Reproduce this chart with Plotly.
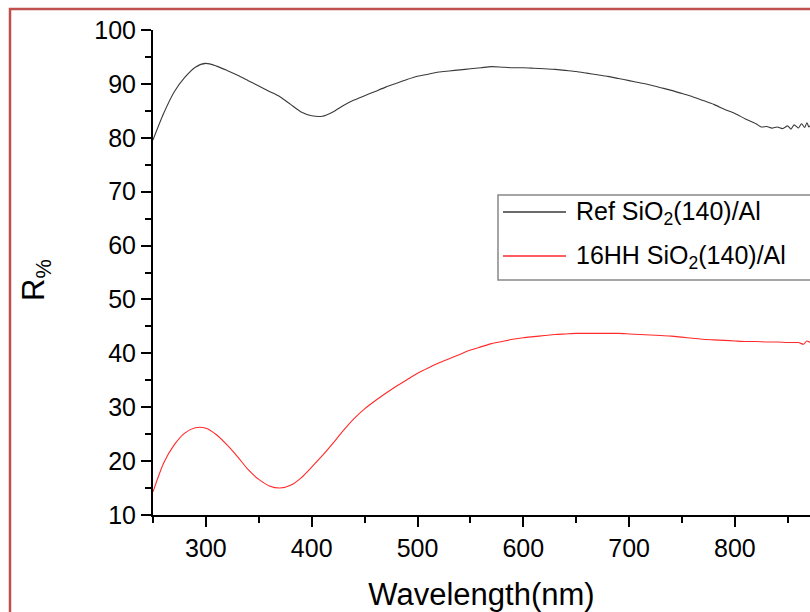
import plotly.graph_objects as go

# ---- data ----
wl_ref = [250, 260, 270, 280, 290, 300, 310, 320, 330, 340, 350, 360, 370, 380, 390,
          400, 410, 420, 430, 440, 450, 460, 470, 480, 490, 500, 510, 520, 530, 540,
          550, 560, 570, 580, 590, 600, 610, 620, 630, 640, 650, 660, 670, 680, 690,
          700, 710, 720, 730, 740, 750, 760, 770, 780, 790, 800, 810, 820, 825, 830,
          835, 840, 845, 850, 853, 856, 860, 863, 866, 868, 870, 872]
r_ref = [79.6, 84.5, 88.5, 91.2, 93.1, 93.8, 93.3, 92.5, 91.6, 90.6, 89.6, 88.6, 87.6, 86.2, 84.8,
         84.1, 84.0, 84.8, 86.0, 87.0, 87.8, 88.6, 89.4, 90.1, 90.8, 91.4, 91.8, 92.2, 92.4, 92.6,
         92.8, 93.0, 93.2, 93.1, 93.0, 93.0, 92.9, 92.8, 92.7, 92.5, 92.3, 92.0, 91.7, 91.4, 91.0,
         90.6, 90.2, 89.8, 89.3, 88.8, 88.2, 87.6, 86.9, 86.2, 85.3, 84.5, 83.5, 82.6, 82.0, 82.1,
         81.8, 82.0, 81.7, 82.2, 81.6, 82.4, 81.8, 82.6, 81.9, 82.8, 82.0, 82.5]

wl_hh = [250, 260, 270, 280, 290, 300, 310, 320, 330, 340, 350, 360, 370, 380, 390,
         400, 410, 420, 430, 440, 450, 460, 470, 480, 490, 500, 510, 520, 530, 540,
         550, 560, 570, 580, 590, 600, 610, 620, 630, 640, 650, 660, 670, 680, 690,
         700, 710, 720, 730, 740, 750, 760, 770, 780, 790, 800, 810, 820, 830, 840,
         850, 860, 865, 868, 872]
r_hh = [14.3, 19.6, 23.0, 25.2, 26.2, 26.1, 24.9, 23.0, 20.8, 18.4, 16.6, 15.4, 15.0, 15.5, 16.9,
        18.9, 21.0, 23.3, 25.7, 27.9, 29.7, 31.2, 32.6, 33.9, 35.1, 36.3, 37.3, 38.2, 39.0, 39.8,
        40.6, 41.2, 41.8, 42.2, 42.6, 42.9, 43.1, 43.3, 43.5, 43.6, 43.7, 43.7, 43.7, 43.7, 43.7,
        43.6, 43.5, 43.4, 43.3, 43.2, 43.0, 42.8, 42.6, 42.5, 42.4, 42.3, 42.2, 42.2, 42.1, 42.1,
        42.0, 42.0, 41.7, 42.3, 41.9]

name_ref = "Ref SiO<sub>2</sub>(140)/Al"
name_hh = "16HH SiO<sub>2</sub>(140)/Al"
x_title = "Wavelength(nm)"
y_title = "R<sub>%</sub>"

# ---- layout geometry (pixels) ----
W, H = 810, 612
L, R, T, B = 153, 0, 30, 97
PW, PH = W - L - R, H - T - B
FONT = "Arial, Liberation Sans, sans-serif"

def px(xpix):
    return (xpix - L) / PW

def py(ypix):
    return 1 - (ypix - T) / PH

fig = go.Figure()
fig.add_trace(go.Scatter(x=wl_ref, y=r_ref, mode="lines", name=name_ref,
                         line=dict(color="#3a3a3a", width=1.1, shape="spline", smoothing=0.7),
                         showlegend=False))
fig.add_trace(go.Scatter(x=wl_hh, y=r_hh, mode="lines", name=name_hh,
                         line=dict(color="#ff2a2a", width=1.1, shape="spline", smoothing=0.7),
                         showlegend=False))

fig.update_layout(
    width=W, height=H,
    margin=dict(l=L, r=R, t=T, b=B),
    paper_bgcolor="white", plot_bgcolor="white",
    font=dict(family=FONT, color="black", size=25),
    xaxis=dict(range=[250, 250 + PW / 1.058], tickmode="linear", tick0=300, dtick=100,
               ticks="outside", ticklen=10, tickwidth=2, tickcolor="black",
               showline=True, linewidth=2, linecolor="black", showgrid=False, zeroline=False,
               tickfont=dict(size=25, family=FONT),
               minor=dict(tick0=250, dtick=50, ticks="outside", ticklen=6, tickwidth=2,
                          tickcolor="black", showgrid=False),
               title=dict(text=x_title, font=dict(size=31, family=FONT), standoff=24)),
    yaxis=dict(range=[10, 100], tickmode="linear", tick0=10, dtick=10,
               ticks="outside", ticklen=10, tickwidth=2, tickcolor="black",
               showline=True, linewidth=2, linecolor="black", showgrid=False, zeroline=False,
               tickfont=dict(size=25, family=FONT),
               minor=dict(tick0=10, dtick=5, ticks="outside", ticklen=6, tickwidth=2,
                          tickcolor="black", showgrid=False)),
)

# y-axis title
fig.add_annotation(text=y_title, xref="paper", yref="paper", x=px(36), y=py(280),
                   textangle=-90, showarrow=False, font=dict(size=31, family=FONT),
                   xanchor="center", yanchor="middle")

# red outer frame
fig.add_shape(type="rect", xref="paper", yref="paper", x0=px(10), y0=py(700), x1=px(900), y1=py(9),
              line=dict(color="#c0504d", width=2.5), fillcolor="rgba(0,0,0,0)", layer="above")

# legend box (drawn manually to match the reference)
fig.add_shape(type="rect", xref="paper", yref="paper", x0=px(498), y0=py(280), x1=px(860), y1=py(195),
              line=dict(color="#888888", width=1.5), fillcolor="white", layer="above")
for ypix, col, txt in [(212, "#3a3a3a", name_ref), (256, "#ff2a2a", name_hh)]:
    fig.add_shape(type="line", xref="paper", yref="paper", x0=px(503), x1=px(566), y0=py(ypix), y1=py(ypix),
                  line=dict(color=col, width=1.5), layer="above")
    fig.add_annotation(text=txt, xref="paper", yref="paper", x=px(574), y=py(ypix + 1),
                       xanchor="left", yanchor="middle", showarrow=False,
                       font=dict(size=25, family=FONT, color="black"))

fig.write_html("out.html")
